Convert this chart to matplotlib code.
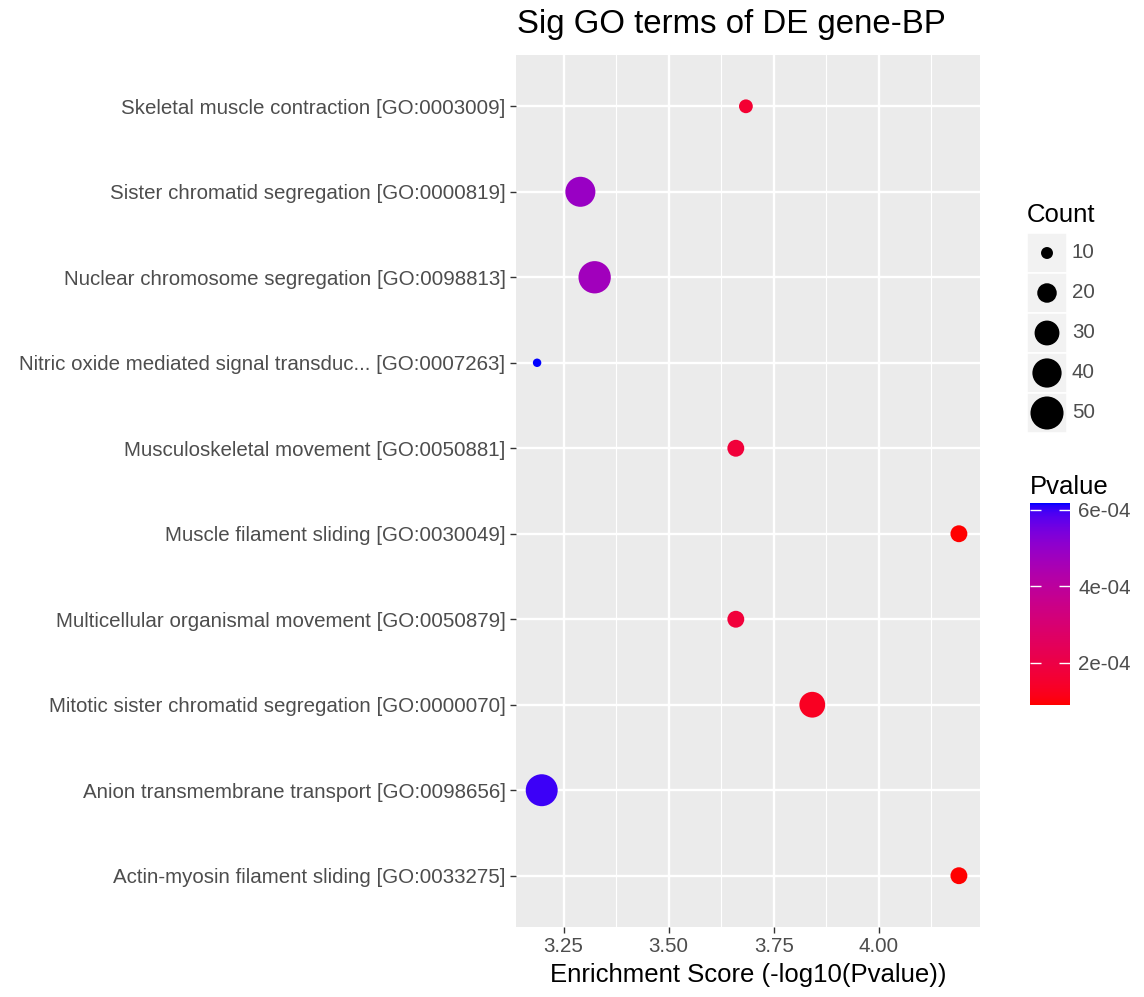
import numpy as np
import matplotlib.pyplot as plt
from matplotlib.colors import ListedColormap, Normalize
from matplotlib.cm import ScalarMappable
from matplotlib.patches import Rectangle

plt.rcParams["font.family"] = ["Liberation Sans", "DejaVu Sans"]

# GO terms, listed top to bottom as they appear on the y axis
terms = [
    "Skeletal muscle contraction [GO:0003009]",
    "Sister chromatid segregation [GO:0000819]",
    "Nuclear chromosome segregation [GO:0098813]",
    "Nitric oxide mediated signal transduc... [GO:0007263]",
    "Musculoskeletal movement [GO:0050881]",
    "Muscle filament sliding [GO:0030049]",
    "Multicellular organismal movement [GO:0050879]",
    "Mitotic sister chromatid segregation [GO:0000070]",
    "Anion transmembrane transport [GO:0098656]",
    "Actin-myosin filament sliding [GO:0033275]",
]
enrichment = [3.684, 3.290, 3.324, 3.187, 3.660, 4.191, 3.660, 3.842, 3.198, 4.191]
pvalue = [1.6e-4, 4.9e-4, 4.7e-4, 6.18e-4, 1.75e-4, 9.0e-5, 1.75e-4, 1.3e-4, 6.0e-4, 9.0e-5]
count = [12, 42, 48, 7, 16, 16, 16, 32, 47, 16]

count_breaks = [10, 20, 30, 40, 50]
pvalue_breaks = [2e-4, 4e-4, 6e-4]

W, H = 1144, 997
GRAY_TEXT = "#4D4D4D"


def size_for(c):
    # marker area (pt^2) grows linearly with count
    return np.maximum(-49.0 + 12.3 * np.asarray(c, float), 8.0)


# red -> blue gradient interpolated in CIE Lab
M = np.array([[0.4124, 0.3576, 0.1805],
              [0.2126, 0.7152, 0.0722],
              [0.0193, 0.1192, 0.9505]])
WHITE = np.array([0.95047, 1.0, 1.08883])


def srgb_to_lab(rgb):
    rgb = np.asarray(rgb, float)
    lin = np.where(rgb <= 0.04045, rgb / 12.92, ((rgb + 0.055) / 1.055) ** 2.4)
    xyz = lin @ M.T / WHITE
    f = np.where(xyz > 0.008856, np.cbrt(xyz), 7.787 * xyz + 16 / 116)
    return np.stack([116 * f[..., 1] - 16,
                     500 * (f[..., 0] - f[..., 1]),
                     200 * (f[..., 1] - f[..., 2])], -1)


def lab_to_srgb(lab):
    fy = (lab[..., 0] + 16) / 116
    f = np.stack([fy + lab[..., 1] / 500, fy, fy - lab[..., 2] / 200], -1)
    xyz = np.where(f ** 3 > 0.008856, f ** 3, (f - 16 / 116) / 7.787) * WHITE
    lin = np.clip(xyz @ np.linalg.inv(M).T, 0, 1)
    rgb = np.where(lin <= 0.0031308, 12.92 * lin, 1.055 * lin ** (1 / 2.4) - 0.055)
    return np.clip(rgb, 0, 1)


t = np.linspace(0, 1, 256)[:, None]
lab_lo, lab_hi = srgb_to_lab([1, 0, 0]), srgb_to_lab([0, 0, 1])
cmap = ListedColormap(lab_to_srgb(lab_lo + t * (lab_hi - lab_lo)))
norm = Normalize(vmin=min(pvalue), vmax=max(pvalue))


def rect(x0, y0, x1, y1):
    # pixel box (top-left origin) -> figure fraction rect
    return [x0 / W, 1 - y1 / H, (x1 - x0) / W, (y1 - y0) / H]


fig = plt.figure(figsize=(W / 100, H / 100), dpi=100)
ax = fig.add_axes(rect(516, 55, 980, 927))

n = len(terms)
ypos = np.arange(n)[::-1]
ax.scatter(enrichment, ypos, s=size_for(count), c=pvalue, cmap=cmap, norm=norm,
           linewidths=0, zorder=3)

lo, hi = min(enrichment), max(enrichment)
pad = 0.05 * (hi - lo)
ax.set_xlim(lo - pad, hi + pad)
ax.set_ylim(-0.6, n - 0.4)
ax.set_xticks([3.25, 3.50, 3.75, 4.00])
ax.set_xticklabels(["3.25", "3.50", "3.75", "4.00"])
ax.set_xticks([3.375, 3.625, 3.875, 4.125], minor=True)
ax.set_yticks(ypos)
ax.set_yticklabels(terms)

ax.set_facecolor("#EBEBEB")
for s in ax.spines.values():
    s.set_visible(False)
ax.grid(which="major", color="white", linewidth=1.7)
ax.grid(which="minor", axis="x", color="white", linewidth=0.8)
ax.set_axisbelow(True)
ax.tick_params(which="major", length=4.5, width=1.0, color="#333333",
               labelsize=14.8, labelcolor=GRAY_TEXT, pad=3)
ax.tick_params(which="minor", length=0)

ax.set_xlabel("Enrichment Score (-log10(Pvalue))", fontsize=18.5, labelpad=5)
fig.text(517 / W, 1 - 25 / H, "Sig GO terms of DE gene-BP", fontsize=23.8,
         ha="left", va="center")

# size legend
fig.text(1027 / W, 1 - 215 / H, "Count", fontsize=18.5, ha="left", va="center")
lax = fig.add_axes(rect(1027, 233, 1067, 433))
lax.set_xlim(0, 1)
lax.set_ylim(len(count_breaks), 0)
lax.axis("off")
for i, b in enumerate(count_breaks):
    lax.add_patch(Rectangle((0, i), 1, 1, facecolor="#F2F2F2",
                            edgecolor="white", linewidth=1.2))
    lax.text(1.12, i + 0.5, str(b), fontsize=14.8, color=GRAY_TEXT,
             ha="left", va="center")
lax.scatter([0.5] * len(count_breaks), np.arange(len(count_breaks)) + 0.5,
            s=size_for(count_breaks), color="black", linewidths=0, clip_on=False)

# colour bar
fig.text(1030 / W, 1 - 487 / H, "Pvalue", fontsize=18.5, ha="left", va="center")
cax = fig.add_axes(rect(1030, 503, 1070, 705))
cb = fig.colorbar(ScalarMappable(norm=norm, cmap=cmap), cax=cax,
                  ticks=pvalue_breaks)
cb.outline.set_visible(False)
cb.ax.set_yticklabels([f"{v:.0e}" for v in pvalue_breaks])
cax.tick_params(direction="in", length=8, width=1.0, color="white",
                left=True, right=True, labelsize=14.8, labelcolor=GRAY_TEXT, pad=6)

fig.savefig("out.png", dpi=100)
